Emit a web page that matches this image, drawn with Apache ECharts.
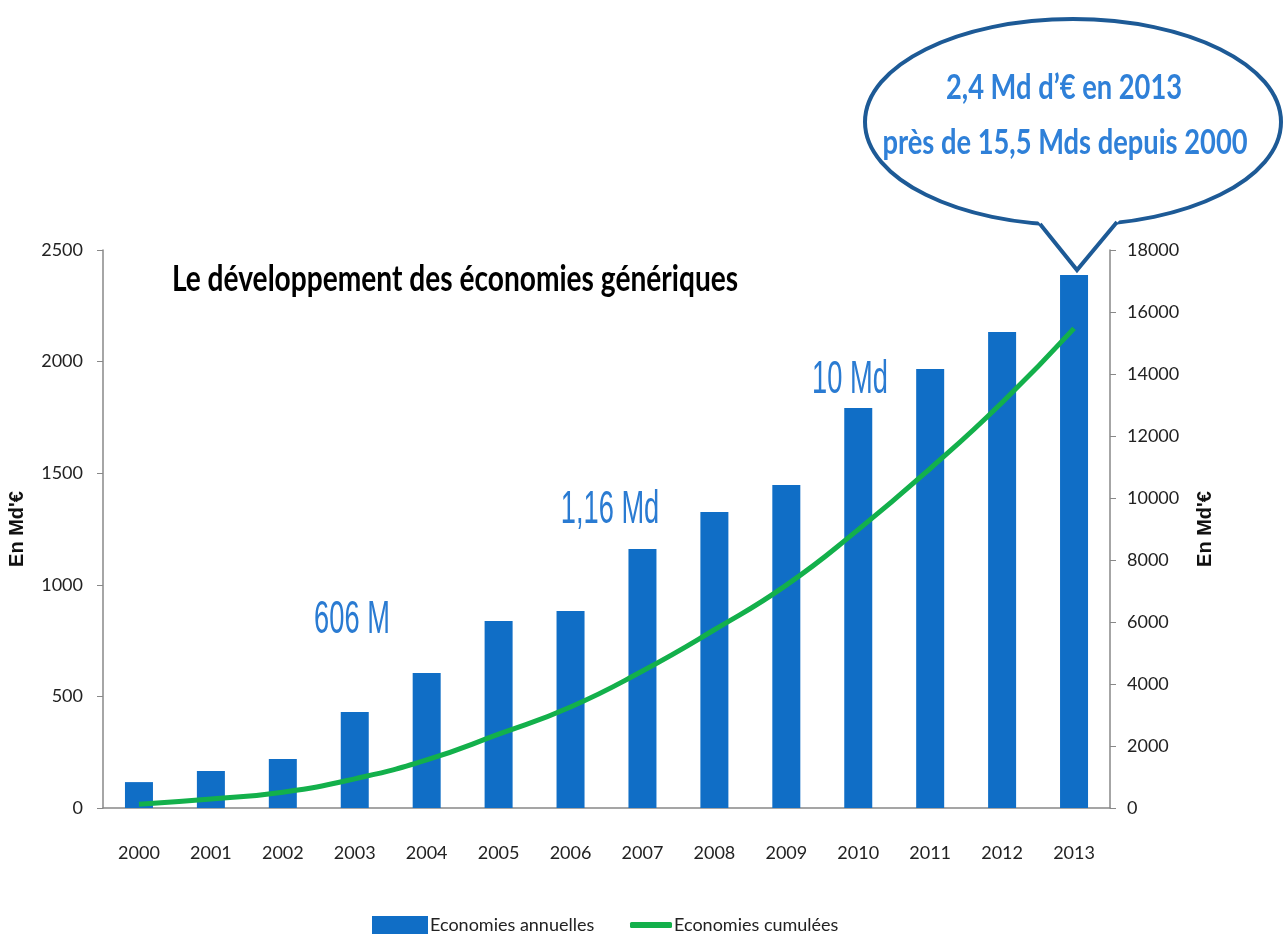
<!DOCTYPE html>
<html>
<head>
<meta charset="utf-8">
<title>Economies génériques</title>
<script src="https://cdn.jsdelivr.net/npm/echarts@6/dist/echarts.min.js"></script>
<style>
	html, body { margin: 0; padding: 0; background: #fff; }
	#main { width: 1283px; height: 935px; }
</style>
</head>
<body>
<div id="main"></div>
<script>
var years = ['2000', '2001', '2002', '2003', '2004', '2005', '2006', '2007', '2008', '2009', '2010', '2011', '2012', '2013'];
// economies annuelles, en M d'€
var annuelles = [116, 166, 220, 430, 605, 838, 883, 1160, 1326, 1447, 1792, 1967, 2133, 2388];
// economies cumulees, en M d'€
var cumulees = [120, 290, 510, 940, 1550, 2380, 3260, 4420, 5750, 7190, 8980, 10950, 13080, 15470];

var annotations = ['606 M', '1,16 Md', '10 Md'];
var bubbleLines = ['2,4 Md d\u2019€ en 2013', 'près de 15,5 Mds depuis 2000'];
var titleText = 'Le développement des économies génériques';

var dom = document.getElementById('main');
var myChart = echarts.init(dom, null, { renderer: 'canvas' });

var blue = '#106ec6';
var green = '#13b04b';
var noteBlue = '#2a7bd2';

function scaledText(x, y, text, size, weight, color, sx, family) {
	return {
		type: 'text',
		x: x,
		y: y,
		scaleX: sx,
		z: 100,
		style: {
			text: text,
			fontSize: size,
			fontWeight: weight,
			fontFamily: family,
			fill: color,
			align: 'center',
			verticalAlign: 'middle'
		}
	};
}

function plain(v) {
	return String(v);
}

var option = {
	animation: false,
	grid: {
		left: 103,
		right: 173,
		top: 250,
		bottom: 127,
		containLabel: false,
		outerBoundsMode: 'none'
	},
	legend: [{
		data: ['Economies annuelles'],
		left: 367,
		top: 911,
		itemWidth: 56,
		itemHeight: 18,
		itemGap: 0,
		icon: 'rect',
		textStyle: { fontFamily: 'Lato', fontSize: 18, color: '#222', padding: [0, 0, 0, -3] }
	}, {
		data: ['Economies cumulées'],
		left: 625,
		top: 911,
		itemWidth: 42,
		itemHeight: 6,
		icon: 'roundRect',
		itemStyle: { color: green },
		textStyle: { fontFamily: 'Lato', fontSize: 18, color: '#222', padding: [0, 0, 0, -3] }
	}],
	xAxis: {
		type: 'category',
		data: years,
		axisLine: { lineStyle: { color: '#888', width: 1.5 } },
		axisTick: { length: 8, lineStyle: { color: '#888' } },
		axisLabel: { margin: 36, fontFamily: 'Lato', fontSize: 18, color: '#222' }
	},
	yAxis: [{
		type: 'value',
		min: 0,
		max: 2500,
		interval: 500,
		name: 'En Md\'€',
		nameLocation: 'middle',
		nameRotate: 90,
		nameGap: 76,
		nameTextStyle: { fontFamily: 'Liberation Sans', fontWeight: 'bold', fontSize: 20, color: '#111' },
		axisLine: { show: true, lineStyle: { color: '#888', width: 1.5 } },
		axisTick: { show: true, length: 6, lineStyle: { color: '#888' } },
		axisLabel: { margin: 20, fontFamily: 'Lato', fontSize: 18, color: '#222', formatter: plain },
		splitLine: { show: false }
	}, {
		type: 'value',
		min: 0,
		max: 18000,
		interval: 2000,
		name: 'En Md\'€',
		nameLocation: 'middle',
		nameRotate: 90,
		nameGap: 85,
		nameTextStyle: { fontFamily: 'Liberation Sans', fontWeight: 'bold', fontSize: 20, color: '#111' },
		axisLine: { show: true, lineStyle: { color: '#888', width: 1.5 } },
		axisTick: { show: true, length: 6, lineStyle: { color: '#888' } },
		axisLabel: { margin: 17, fontFamily: 'Lato', fontSize: 18, color: '#222', formatter: plain },
		splitLine: { show: false }
	}],
	series: [{
		name: 'Economies annuelles',
		type: 'bar',
		data: annuelles,
		barWidth: 28,
		itemStyle: { color: blue }
	}, {
		name: 'Economies cumulées',
		type: 'line',
		yAxisIndex: 1,
		data: cumulees,
		smooth: true,
		symbol: 'none',
		lineStyle: { color: green, width: 5 },
		itemStyle: { color: green }
	}],
	graphic: [
		scaledText(455, 279, titleText, 37, 'bold', '#000', 0.76, 'Lato'),
		scaledText(352, 620, annotations[0], 47, 'normal', noteBlue, 0.58, 'Liberation Sans'),
		scaledText(610, 510, annotations[1], 47, 'normal', noteBlue, 0.58, 'Liberation Sans'),
		scaledText(850, 380, annotations[2], 47, 'normal', noteBlue, 0.58, 'Liberation Sans'),
		// bulle
		{
			type: 'ellipse',
			shape: { cx: 1073, cy: 122, rx: 208, ry: 103 },
			z: 90,
			style: { fill: '#fff', stroke: '#1d5a96', lineWidth: 4 }
		},
		{
			type: 'polygon',
			shape: { points: [[1034, 216], [1077, 270], [1123, 216]] },
			z: 91,
			style: { fill: '#fff', stroke: null }
		},
		{
			type: 'polyline',
			shape: { points: [[1040, 224], [1077, 270], [1117, 222]] },
			z: 92,
			style: { fill: null, stroke: '#1d5a96', lineWidth: 4, lineJoin: 'miter' }
		},
		scaledText(1064, 88, bubbleLines[0], 35, 'bold', '#2f80d8', 0.78, 'Lato'),
		scaledText(1065, 143, bubbleLines[1], 35, 'bold', '#2f80d8', 0.78, 'Lato')
	]
};

if (option && typeof option === 'object') {
	myChart.setOption(option);
}

window.addEventListener('resize', myChart.resize);
</script>
</body>
</html>
